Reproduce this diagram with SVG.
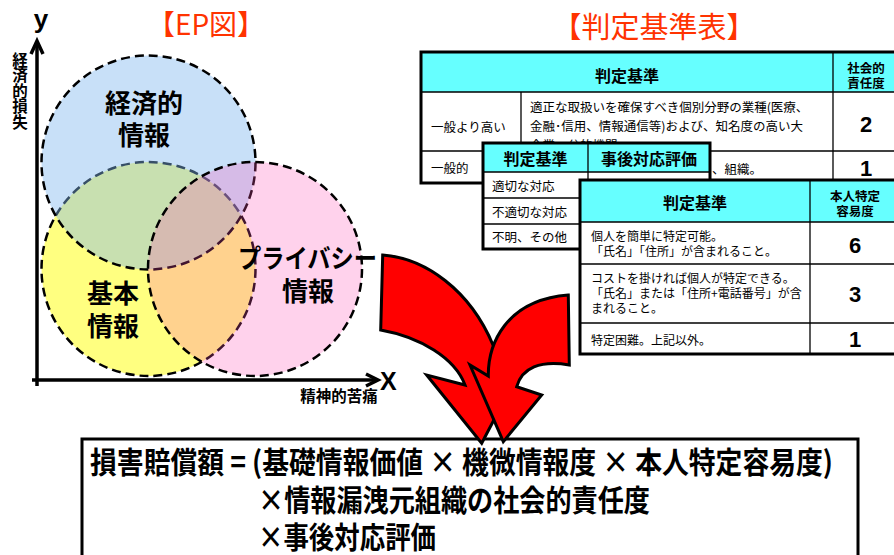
<svg xmlns="http://www.w3.org/2000/svg" width="894" height="555" viewBox="0 0 894 555">
<style>
.j{font-family:"Noto Sans CJK JP","Noto Sans CJK SC",sans-serif}
.title{font-size:28px;fill:#ff3300;text-anchor:middle}
.lbl{font-size:26px;font-weight:bold;text-anchor:middle;fill:#000}
.ax{font-size:15.5px;font-weight:bold}
.hd{font-size:16px;font-weight:bold;text-anchor:middle}
.hs{font-size:12.5px;font-weight:bold;text-anchor:middle}
.bd{font-size:12.5px}
.bs{font-size:12px}
.num{font-family:"Liberation Sans",Arial,sans-serif;font-weight:bold;font-size:22px;text-anchor:middle}
.cell{fill:#fff}
.hdr{fill:#66ffff}
.ln{stroke:#000;stroke-width:1.3;fill:none}
.ob{fill:none;stroke:#000;stroke-width:3}
.circ{stroke:#000;stroke-width:2.5;stroke-dasharray:9 5}
.axis{stroke:#000;stroke-width:3.5;fill:none}
.arr{fill:#ff0000;stroke:#000;stroke-width:3;stroke-linejoin:miter}
.f{font-size:30px;font-weight:bold}
</style>

<!-- titles -->
<text class="j title" x="206" y="35">【EP図】</text>
<text class="j title" x="654" y="38" style="font-size:29px">【判定基準表】</text>

<!-- EP diagram -->
<g id="ep-axes">
  <line class="axis" x1="37" y1="386" x2="37" y2="42"/>
  <polyline class="axis" points="31,54 37,41 43,54"/>
  <line class="axis" x1="32" y1="380" x2="376" y2="380"/>
  <polyline class="axis" points="366,374 378,380 366,386"/>
  <text x="41" y="28" style="font-family:'Liberation Sans',Arial,sans-serif;font-size:26px;font-weight:bold;text-anchor:middle">y</text>
  <text x="380" y="390" style="font-family:'Liberation Sans',Arial,sans-serif;font-size:25px;font-weight:bold">X</text>
  <text class="j ax" x="20" y="52" style="writing-mode:vertical-rl">経済的損失</text>
  <text class="j ax" x="339" y="402" text-anchor="middle">精神的苦痛</text>
</g>

<g id="ep-kihon">
  <circle class="circ" cx="148.5" cy="269" r="107" fill="#ffff80"/>
</g>
<g id="ep-keizai">
  <circle class="circ" cx="148.5" cy="162.5" r="107" fill="rgb(128,183,239)" fill-opacity="0.43"/>
</g>
<g id="ep-privacy">
  <circle class="circ" cx="255" cy="269" r="107" fill="rgb(255,80,180)" fill-opacity="0.26"/>
</g>
<g id="ep-labels">
  <text class="j lbl" x="144" y="113">経済的</text>
  <text class="j lbl" x="144" y="145">情報</text>
  <text class="j lbl" x="113" y="303">基本</text>
  <text class="j lbl" x="113" y="336">情報</text>
  <text class="j lbl" x="307.5" y="268" textLength="139" lengthAdjust="spacingAndGlyphs">プライバシー</text>
  <text class="j lbl" x="308" y="301">情報</text>
</g>

<!-- Table 1: social responsibility -->
<g id="table-social">
  <rect class="cell" x="421" y="52" width="480" height="131"/>
  <rect class="hdr" x="421" y="52" width="480" height="40"/>
  <line class="ln" x1="421" y1="92" x2="901" y2="92"/>
  <line class="ln" x1="421" y1="151" x2="901" y2="151"/>
  <line class="ln" x1="521" y1="92" x2="521" y2="183"/>
  <line class="ln" x1="833" y1="52" x2="833" y2="183"/>
  <text class="j hd" x="627" y="82">判定基準</text>
  <text class="j hs" x="866" y="73">社会的</text>
  <text class="j hs" x="866" y="88">責任度</text>
  <text class="j bd" x="431" y="132">一般より高い</text>
  <text class="j bd" x="530" y="112">適正な取扱いを確保すべき個別分野の業種(医療、</text>
  <text class="j bd" x="530" y="131">金融･信用、情報通信等)および、知名度の高い大</text>
  <text class="j bd" x="530" y="150">企業、公的機関</text>
  <text class="num" x="866" y="132">2</text>
  <text class="j bd" x="431" y="173">一般的</text>
  <text class="j bd" x="712" y="174">、組織。</text>
  <text class="num" x="866" y="176">1</text>
  <rect class="ob" x="421" y="52" width="480" height="131"/>
</g>

<!-- Table 2: post-incident response -->
<g id="table-response">
  <rect class="cell" x="483" y="143" width="227" height="106"/>
  <rect class="hdr" x="483" y="143" width="227" height="29"/>
  <line class="ln" x1="483" y1="172" x2="710" y2="172"/>
  <line class="ln" x1="483" y1="198" x2="710" y2="198"/>
  <line class="ln" x1="483" y1="224" x2="710" y2="224"/>
  <line class="ln" x1="588" y1="143" x2="588" y2="249"/>
  <text class="j hd" x="535.5" y="165">判定基準</text>
  <text class="j hd" x="649" y="165">事後対応評価</text>
  <text class="j bd" x="492" y="191">適切な対応</text>
  <text class="j bd" x="492" y="216.5">不適切な対応</text>
  <text class="j bd" x="492" y="242">不明、その他</text>
  <rect class="ob" x="483" y="143" width="227" height="106"/>
</g>

<!-- Table 3: identifiability -->
<g id="table-identify">
  <rect class="cell" x="580" y="180" width="321" height="174"/>
  <rect class="hdr" x="580" y="180" width="321" height="42"/>
  <line class="ln" x1="580" y1="222" x2="901" y2="222"/>
  <line class="ln" x1="580" y1="264" x2="901" y2="264"/>
  <line class="ln" x1="580" y1="323" x2="901" y2="323"/>
  <line class="ln" x1="810" y1="180" x2="810" y2="354"/>
  <text class="j hd" x="695" y="209">判定基準</text>
  <text class="j hs" x="855" y="201">本人特定</text>
  <text class="j hs" x="855" y="216">容易度</text>
  <text class="j bs" x="591" y="241">個人を簡単に特定可能。</text>
  <text class="j bs" x="591" y="256">「氏名」「住所」が含まれること。</text>
  <text class="num" x="855" y="253">6</text>
  <text class="j bs" x="591" y="283">コストを掛ければ個人が特定できる。</text>
  <text class="j bs" x="591" y="298">「氏名」または「住所+電話番号」が含</text>
  <text class="j bs" x="591" y="313">まれること。</text>
  <text class="num" x="855" y="302">3</text>
  <text class="j bs" x="591" y="345">特定困難。上記以外。</text>
  <text class="num" x="855" y="347">1</text>
  <rect class="ob" x="580" y="180" width="321" height="174"/>
</g>

<!-- Formula -->
<g id="formula">
  <rect x="82" y="439" width="776" height="130" fill="#fff" stroke="#000" stroke-width="3"/>
  <text class="j f" x="90" y="473" textLength="743" lengthAdjust="spacingAndGlyphs">損害賠償額 = (基礎情報価値 × 機微情報度 × 本人特定容易度)</text>
  <text class="j f" x="258" y="511" textLength="392" lengthAdjust="spacingAndGlyphs">×情報漏洩元組織の社会的責任度</text>
  <text class="j f" x="258" y="548" textLength="178" lengthAdjust="spacingAndGlyphs">×事後対応評価</text>
</g>

<!-- Connectors: red curved arrows -->
<g id="connectors">
  <path class="arr" d="M382.7,255 C425,258 470,290 493,345 L500,362 L520,370 L481.7,443.3 L426.7,375 L465,385 C455,358 420,337 380.7,330 Z"/>
  <path class="arr" d="M568.3,295 L569.3,365 C540,360 522,368 516.7,386.7 L541.7,395 L503.3,441.7 L470,365 L488.3,376 C488,345 505,300 568.3,295 Z"/>
</g>
</svg>
